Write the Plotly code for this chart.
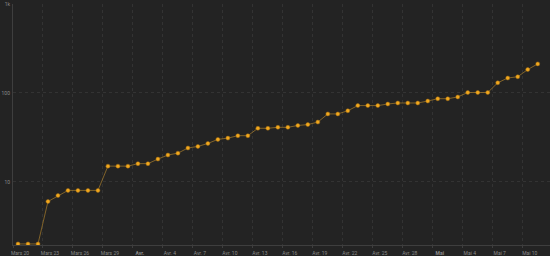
import plotly.graph_objects as go
import pandas as pd

# Daily values (log scale), one per day from 2020-03-20 to 2020-05-11
start_date = "2020-03-20"
values = [2, 2, 2, 6, 7, 8, 8, 8, 8, 15, 15, 15,
          16, 16, 18, 20, 21, 24, 25, 27, 30, 31, 33, 33, 40, 40,
          41, 41, 43, 44, 47, 58, 58, 63, 72, 72, 72, 75, 77, 77,
          77, 81, 86, 86, 90, 101, 101, 101, 130, 147, 152, 183, 212]

tick_dates = ["2020-03-20", "2020-03-23", "2020-03-26", "2020-03-29", "2020-04-01",
              "2020-04-04", "2020-04-07", "2020-04-10", "2020-04-13", "2020-04-16",
              "2020-04-19", "2020-04-22", "2020-04-25", "2020-04-28", "2020-05-01",
              "2020-05-04", "2020-05-07", "2020-05-10"]
tick_labels = ["Mars 20", "Mars 23", "Mars 26", "Mars 29", "<b>Avr.</b>",
               "Avr. 4", "Avr. 7", "Avr. 10", "Avr. 13", "Avr. 16",
               "Avr. 19", "Avr. 22", "Avr. 25", "Avr. 28", "<b>Mai</b>",
               "Mai 4", "Mai 7", "Mai 10"]

y_tickvals = [10, 100, 1000]
y_ticktext = ["10", "100", "1k"]

days = pd.date_range(start_date, periods=len(values), freq="D") + pd.Timedelta(hours=12)

fig = go.Figure()
fig.add_trace(go.Scatter(
    x=days, y=values, mode="lines+markers",
    line=dict(color="rgba(190,140,45,0.6)", width=1),
    marker=dict(color="#f2a81d", size=4, symbol="circle",
                line=dict(color="#9a6a18", width=0.5)),
    hoverinfo="x+y",
))

BG = "#232323"
fig.update_layout(
    width=550, height=256,
    margin=dict(l=13, r=0, t=4, b=8),
    paper_bgcolor=BG, plot_bgcolor=BG,
    showlegend=False,
    font=dict(family="Roboto, DejaVu Sans, sans-serif", size=5, color="#8a8a8a"),
)
fig.update_xaxes(
    type="date",
    range=[pd.Timestamp("2020-03-20"), pd.Timestamp("2020-05-12 17:30")],
    tickvals=pd.to_datetime(tick_dates), ticktext=tick_labels,
    ticklabelshift=7, ticklabelstandoff=1,
    showgrid=True, gridcolor="#333333", griddash="dot", gridwidth=1,
    showline=True, linecolor="#3e3e3e", linewidth=1,
    ticks="outside", ticklen=2, tickcolor="#3e3e3e",
    tickfont=dict(size=5, color="#8a8a8a"),
    zeroline=False,
)
fig.update_yaxes(
    type="log", range=[0.289, 3],
    tickvals=y_tickvals, ticktext=y_ticktext,
    showgrid=True, gridcolor="#333333", griddash="dot", gridwidth=1,
    showline=True, linecolor="#3e3e3e", linewidth=1,
    ticks="", ticklabelstandoff=1,
    tickfont=dict(size=5, color="#8a8a8a"),
    zeroline=False,
)

fig.write_html("out.html")
